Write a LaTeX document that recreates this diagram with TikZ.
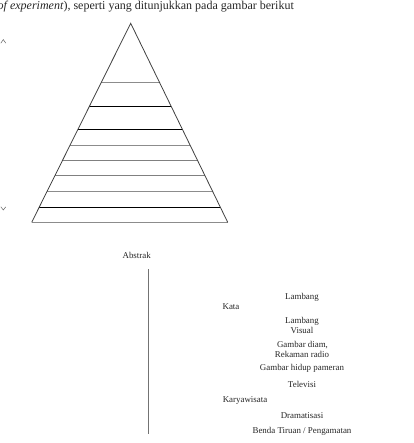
\documentclass[tikz,border=0pt]{standalone}
\usepackage{fontspec}
\setmainfont{Liberation Serif}
\usetikzlibrary{calc}
\begin{document}
\begin{tikzpicture}[x=1pt,y=-1pt,
  lbl/.style={font=\fontsize{8.9}{10}\selectfont, text=black!85, inner sep=0pt, anchor=base, align=center},
  edgeline/.style={draw=black!75, line width=0.8pt},
  blackline/.style={draw=black, line width=0.9pt},
  grayline/.style={draw=black!45, line width=0.6pt},
  graythick/.style={draw=black!50, line width=1.2pt},
  chevron/.style={draw=black!60, line width=0.5pt}]
\useasboundingbox (0,0) rectangle (413,443);
% top text
\node[anchor=base west, inner sep=0pt, font=\fontsize{12}{14}\selectfont, text=black!85] (cap) at (-2.5,9.2) {\textit{of experiment}), seperti yang ditunjukkan pada gambar berikut};
% pyramid
\coordinate (A) at (130.7,23.3);
\coordinate (BL) at (31.7,222.3);
\coordinate (BR) at (227.7,222.3);
\foreach \t/\s in {0.2985/grayline,0.4171/blackline,0.5312/blackline,0.6131/grayline,0.6905/graythick,0.7638/graythick,0.8442/grayline,0.9246/blackline}{
  \draw[\s] ($(A)!\t!(BL)$) -- ($(A)!\t!(BR)$);
}
\draw[grayline] (BL) -- (BR);
\draw[edgeline, line join=miter] (BL) -- (A) -- (BR);
% small marks at left
\draw[chevron] (0.8,43.2) -- (3.3,39.6) -- (5.8,43.2);
\draw[chevron] (0.8,206.8) -- (3.3,210) -- (5.8,206.8);
% vertical line
\coordinate (vt) at (148.3,269.3);
\coordinate (vb) at (148.3,434.3);
\draw[draw=black!55, line width=1pt] (vt) -- (vb);
% labels
\node[lbl] (abstrak) at (136.7,258.8) {Abstrak};
\node[lbl] (lamb1) at (302,299) {Lambang};
\node[lbl] (kata) at (231,309) {Kata};
\node[lbl] (lamb2) at (302,323.7) {Lambang};
\node[lbl] (visual) at (302,333.7) {Visual};
\node[lbl] (gdiam) at (302.5,347) {Gambar diam,};
\node[lbl] (rekam) at (302,357) {Rekaman radio};
\node[lbl] (ghidup) at (302,370.7) {Gambar hidup pameran};
\node[lbl] (tv) at (302,387) {Televisi};
\node[lbl] (karya) at (245,402) {Karyawisata};
\node[lbl] (drama) at (302,418) {Dramatisasi};
\node[lbl] (benda) at (302,433) {Benda Tiruan / Pengamatan};
\end{tikzpicture}
\end{document}
